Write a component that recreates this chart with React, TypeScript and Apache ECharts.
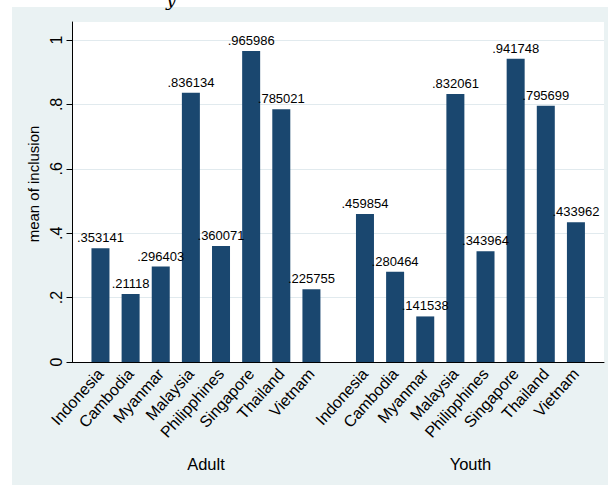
import React, { useEffect, useRef } from 'react';
import * as echarts from 'echarts';

const countries = ['Indonesia', 'Cambodia', 'Myanmar', 'Malaysia', 'Philipphines', 'Singapore', 'Thailand', 'Vietnam'];
const groups = ['Adult', 'Youth'];
const adultValues = [0.353141, 0.21118, 0.296403, 0.836134, 0.360071, 0.965986, 0.785021, 0.225755];
const youthValues = [0.459854, 0.280464, 0.141538, 0.832061, 0.343964, 0.941748, 0.795699, 0.433962];
const yTickValues = [0, 0.2, 0.4, 0.6, 0.8, 1];
const yTickLabels = ['0', '.2', '.4', '.6', '.8', '1'];
const yTitle = 'mean of inclusion';
const titleFragment = 'y';

const FONT = '"Liberation Sans", Arial, sans-serif';
const BG = '#EAF2F3';
const BAR = '#1A476F';
const GRIDLINE = '#E1EAEE';
const Y_MAX = 1.056;

const fmt = (v: number) => String(v).replace(/^0\./, '.');
const yFmt = (v: number) => {
  const i = yTickValues.findIndex((t) => Math.abs(t - v) < 1e-9);
  return i >= 0 ? yTickLabels[i] : '';
};

export default function App() {
  const ref = useRef<HTMLDivElement>(null);
  useEffect(() => {
    if (!ref.current) return;
    const chart = echarts.init(ref.current, null, { renderer: 'svg' });
    const catAxis = (gi: number, name: string) => ({
      gridIndex: gi,
      type: 'category',
      data: countries,
      axisLine: { show: false },
      axisTick: { show: false },
      axisLabel: { interval: 0, rotate: 48, margin: 9, fontSize: 16, color: '#000', fontFamily: FONT },
      name,
      nameLocation: 'middle',
      nameGap: 93,
      nameTextStyle: { fontSize: 16.5, color: '#000', fontFamily: FONT },
    });
    const barSeries = (idx: number, data: number[]) => ({
      type: 'bar',
      xAxisIndex: idx,
      yAxisIndex: idx,
      data,
      barWidth: 18,
      itemStyle: { color: BAR },
      label: {
        show: true,
        position: 'top',
        distance: 4,
        formatter: (p: any) => fmt(p.value),
        fontSize: 13,
        color: '#000',
        fontFamily: FONT,
      },
    });
    chart.setOption({
      animation: false,
      backgroundColor: '#fff',
      graphic: [
        { type: 'rect', z: -10, shape: { x: 12, y: 7, width: 596, height: 478 }, style: { fill: BG } },
        {
          type: 'text',
          z: 10,
          x: 166,
          y: 8,
          style: { text: titleFragment, font: 'italic 18px "DejaVu Serif", serif', fill: '#000', verticalAlign: 'bottom' },
        },
      ],
      grid: [
        { left: 72.5, right: 4, top: 22, bottom: 123, show: true, backgroundColor: '#fff', borderWidth: 0 },
        { left: 85.4, width: 241.1, top: 22, bottom: 123 },
        { left: 349.9, width: 241.1, top: 22, bottom: 123 },
      ],
      xAxis: [
        {
          gridIndex: 0,
          type: 'value',
          min: 0,
          max: 1,
          axisLine: { show: true, lineStyle: { color: '#000', width: 1 } },
          axisTick: { show: false },
          axisLabel: { show: false },
          splitLine: { show: false },
        },
        catAxis(1, groups[0]),
        catAxis(2, groups[1]),
      ],
      yAxis: [
        {
          gridIndex: 0,
          type: 'value',
          min: 0,
          max: Y_MAX,
          axisLine: { show: true, lineStyle: { color: '#000', width: 1 } },
          axisTick: { show: true, length: 6, customValues: yTickValues, lineStyle: { color: '#000' } },
          axisLabel: {
            customValues: yTickValues,
            rotate: 90,
            margin: 8,
            fontSize: 16,
            color: '#000',
            fontFamily: FONT,
            formatter: yFmt,
          },
          splitLine: { show: true, lineStyle: { color: GRIDLINE, width: 1 } },
          name: yTitle,
          nameLocation: 'middle',
          nameGap: 22,
          nameTextStyle: { fontSize: 15, color: '#000', fontFamily: FONT, padding: [0, 0, 0, 16] },
        },
        { gridIndex: 1, type: 'value', min: 0, max: Y_MAX, show: false },
        { gridIndex: 2, type: 'value', min: 0, max: Y_MAX, show: false },
      ],
      series: [barSeries(1, adultValues), barSeries(2, youthValues)],
    });
    return () => chart.dispose();
  }, []);
  return <div ref={ref} style={{ position: 'absolute', left: 0, top: 0, width: 608, height: 485 }} />;
}
